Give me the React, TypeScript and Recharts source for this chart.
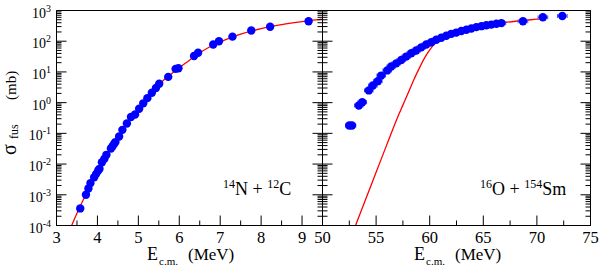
import React from 'react';
import { ComposedChart, Scatter, Line, XAxis, YAxis, ErrorBar } from 'recharts';

const FONT = '"Liberation Serif", "Times New Roman", Times, serif';

// ---- 14N + 12C (left panel) ----
const leftExpE = [3.58, 3.72, 3.78, 3.83, 3.92, 3.97, 4.02, 4.05, 4.11, 4.17, 4.22, 4.33, 4.37, 4.41, 4.44, 4.53, 4.61, 4.72, 4.82, 4.92, 5.02, 5.12, 5.22, 5.33, 5.43, 5.51, 5.73, 5.91, 5.98, 6.36, 6.46, 6.83, 6.97, 7.3, 7.76, 8.22, 9.16];
const leftExpSigma = [3.6e-4, 1.0e-3, 1.6e-3, 2.4e-3, 3.7e-3, 4.8e-3, 6.2e-3, 7.0e-3, 0.0115, 0.0148, 0.02, 0.032, 0.038, 0.046, 0.052, 0.079, 0.13, 0.21, 0.34, 0.41, 0.63, 0.95, 1.4, 2.1, 3.0, 4.1, 6.9, 12.6, 13.2, 33, 42, 78, 100, 141, 224, 295, 447];
const leftCurveE = [3.37, 3.5, 3.75, 4.0, 4.25, 4.5, 4.75, 5.0, 5.25, 5.5, 5.75, 6.0, 6.25, 6.5, 6.75, 7.0, 7.5, 8.0, 8.5, 9.0, 9.5];
const leftCurveSigma = [1.0e-4, 2.5e-4, 1.26e-3, 5.5e-3, 0.0224, 0.076, 0.24, 0.6, 1.55, 3.8, 7.6, 13.8, 24, 42, 66, 95, 170, 257, 347, 437, 525];

// ---- 16O + 154Sm (right panel) ----
const rightExpE = [52.5, 52.75, 53.39, 53.71, 54.32, 54.7, 55.16, 55.48, 56.04, 56.41, 56.88, 57.35, 57.81, 58.28, 58.74, 59.21, 59.68, 60.15, 60.61, 61.08, 61.55, 62.02, 62.48, 62.95, 63.42, 63.88, 64.35, 64.82, 65.28, 65.75, 66.22, 66.69, 68.7, 70.56, 72.37];
const rightExpSigma = [0.18, 0.18, 0.81, 1.03, 2.5, 3.6, 5.0, 7.6, 11.2, 15, 19, 24.5, 31.6, 40.7, 50, 63, 78, 93, 112, 129, 151, 174, 191, 214, 236, 259, 288, 309, 331, 348, 369, 389, 447, 600, 660];
const rightExpErrE = [0.35, 0.35, 0.4, 0.4, 0.4, 0.4, 0.4, 0.4, 0.4, 0.4, 0.4, 0.4, 0.4, 0.4, 0.4, 0.4, 0.4, 0.4, 0.4, 0.4, 0.4, 0.4, 0.4, 0.4, 0.4, 0.4, 0.4, 0.4, 0.4, 0.4, 0.4, 0.4, 0.45, 0.45, 0.45];
const rightCurveE = [53.08, 54, 55, 56, 57, 57.5, 58, 58.5, 59, 59.5, 60, 60.5, 61, 61.5, 62, 63, 64, 65, 66, 67, 68, 69, 70, 70.4];
const rightCurveSigma = [1e-4, 6.8e-4, 5.4e-3, 0.043, 0.33, 0.83, 2.1, 5.4, 12.6, 27.5, 52, 85, 112, 141, 166, 214, 263, 316, 363, 407, 447, 479, 525, 537];

// ---- ticks ----
const leftXTicks = [3, 3.5, 4, 4.5, 5, 5.5, 6, 6.5, 7, 7.5, 8, 8.5, 9, 9.5];
const rightXTicks = [50, 52.5, 55, 57.5, 60, 62.5, 65, 67.5, 70, 72.5, 75];
const yMajorTicks = [1e-4, 1e-3, 1e-2, 1e-1, 1, 10, 100, 1000];
const yMinorMultipliers = [2, 3, 4, 5, 6, 7, 8, 9];
const yTicks = [
  ...yMajorTicks,
  ...yMajorTicks.slice(0, -1).flatMap((d) => yMinorMultipliers.map((m) => Number((d * m).toPrecision(3)))),
];

const leftExp = leftExpE.map((e, i) => ({ e, s: leftExpSigma[i] }));
const leftCurve = leftCurveE.map((e, i) => ({ e, s: leftCurveSigma[i] }));
const rightExp = rightExpE.map((e, i) => ({ e, s: rightExpSigma[i], ex: rightExpErrE[i] }));
const rightCurve = rightCurveE.map((e, i) => ({ e, s: rightCurveSigma[i] }));

const W = 599;
const H = 267;
const PLOT_TOP = 10.5;
const PLOT_BOTTOM = 225.5;
const L_LEFT = 56.5;
const MID = 322.5;
const R_RIGHT = 590.5;

const MAJOR = 10;
const MINOR = 5;

const makeXTick = (side: 'top' | 'bottom', step: number, showLabel: boolean) => (props: any) => {
  const { x, y, payload } = props;
  const v = payload.value;
  const major = Math.abs(v / step - Math.round(v / step)) < 1e-6;
  const len = major ? MAJOR : MINOR;
  const y2 = side === 'bottom' ? y - len : y + len;
  return (
    <g>
      <line x1={x} y1={y} x2={x} y2={y2} stroke="#000" strokeWidth={1} />
      {showLabel && major && side === 'bottom' ? (
        <text x={x} y={y + 17.5} textAnchor="middle" fontFamily={FONT} fontSize={16.5} fill="#000">
          {String(v)}
        </text>
      ) : null}
    </g>
  );
};

const makeYTick = (side: 'left' | 'right', showLabel: boolean) => (props: any) => {
  const { x, y, payload } = props;
  const v = payload.value;
  const lg = Math.log10(v);
  const major = Math.abs(lg - Math.round(lg)) < 1e-6;
  const len = major ? MAJOR : MINOR;
  const x2 = side === 'left' ? x + len : x - len;
  return (
    <g>
      <line x1={x} y1={y} x2={x2} y2={y} stroke="#000" strokeWidth={1} />
      {showLabel && major ? (
        <text x={x - 5.5} y={y + 7} textAnchor="end" fontFamily={FONT} fontSize={14} fill="#000">
          10
          <tspan dy={-6} fontSize={10}>{String(Math.round(lg))}</tspan>
        </text>
      ) : null}
    </g>
  );
};

const dotShape = (p: any) => <circle cx={p.cx} cy={p.cy} r={4.2} fill="#0000ff" />;

type PanelProps = {
  left: number;
  right: number;
  domain: [number, number];
  xTicks: number[];
  step: number;
  yLabels: boolean;
  exp: any[];
  curve: any[];
  errors: boolean;
};

function Panel({ left, right, domain, xTicks, step, yLabels, exp, curve, errors }: PanelProps) {
  const margin = {
    top: PLOT_TOP - 1,
    bottom: H - PLOT_BOTTOM - 1,
    left: left - 1,
    right: W - right - 1,
  };
  const axisLine = { stroke: '#000', strokeWidth: 1 };
  return (
    <ComposedChart width={W} height={H} margin={margin}>
      <XAxis
        xAxisId="b"
        orientation="bottom"
        type="number"
        dataKey="e"
        domain={domain}
        allowDataOverflow
        ticks={xTicks}
        interval={0}
        height={1}
        tickSize={0}
        tickMargin={0}
        tickLine={false}
        axisLine={axisLine}
        tick={makeXTick('bottom', step, true)}
      />
      <XAxis
        xAxisId="t"
        orientation="top"
        type="number"
        domain={domain}
        allowDataOverflow
        ticks={xTicks}
        interval={0}
        height={1}
        tickSize={0}
        tickMargin={0}
        tickLine={false}
        axisLine={axisLine}
        tick={makeXTick('top', step, false)}
      />
      <YAxis
        yAxisId="l"
        orientation="left"
        type="number"
        scale="log"
        dataKey="s"
        domain={[1e-4, 1000]}
        allowDataOverflow
        ticks={yTicks}
        interval={0}
        width={1}
        tickSize={0}
        tickMargin={0}
        tickLine={false}
        axisLine={axisLine}
        tick={makeYTick('left', yLabels)}
      />
      <YAxis
        yAxisId="r"
        orientation="right"
        type="number"
        scale="log"
        domain={[1e-4, 1000]}
        allowDataOverflow
        ticks={yTicks}
        interval={0}
        width={1}
        tickSize={0}
        tickMargin={0}
        tickLine={false}
        axisLine={axisLine}
        tick={makeYTick('right', false)}
      />
      <Line
        xAxisId="b"
        yAxisId="l"
        data={curve}
        dataKey="s"
        type="monotone"
        stroke="#ff0000"
        strokeWidth={1.3}
        dot={false}
        activeDot={false}
        isAnimationActive={false}
      />
      <Scatter
        xAxisId="b"
        yAxisId="l"
        data={exp}
        dataKey="s"
        fill="#0000ff"
        shape={dotShape}
        isAnimationActive={false}
      >
        {errors ? (
          <ErrorBar
            dataKey="ex"
            direction="x"
            width={2}
            stroke="#4a4aff"
            strokeWidth={1}
            isAnimationActive={false}
          />
        ) : null}
      </Scatter>
    </ComposedChart>
  );
}

export default function App() {
  const cL = (L_LEFT + MID) / 2;
  const cR = (MID + R_RIGHT) / 2;
  const xTitle = (c: number) => (
    <g fontFamily={FONT} fill="#000">
      <text x={c - 42.5} y={260} fontSize={18}>E</text>
      <text x={c - 30.5} y={264.5} fontSize={11}>c.m.</text>
      <text x={c - 1.5} y={260} fontSize={17}>(MeV)</text>
    </g>
  );
  return (
    <div style={{ position: 'absolute', left: 0, top: 0, width: W, height: H, background: '#fff' }}>
      <div style={{ position: 'absolute', left: 0, top: 0 }}>
        <Panel
          left={L_LEFT}
          right={MID}
          domain={[3, 9.5]}
          xTicks={leftXTicks}
          step={1}
          yLabels={true}
          exp={leftExp}
          curve={leftCurve}
          errors={false}
        />
      </div>
      <div style={{ position: 'absolute', left: 0, top: 0 }}>
        <Panel
          left={MID}
          right={R_RIGHT}
          domain={[50, 75]}
          xTicks={rightXTicks}
          step={5}
          yLabels={false}
          exp={rightExp}
          curve={rightCurve}
          errors={true}
        />
      </div>
      <svg
        width={W}
        height={H}
        style={{ position: 'absolute', left: 0, top: 0, pointerEvents: 'none', whiteSpace: 'pre' }}
      >
        {xTitle(cL)}
        {xTitle(cR)}
        <text
          x={16}
          y={155}
          transform="rotate(-90, 16, 155)"
          fontFamily={FONT}
          fill="#000"
        >
          <tspan x={16} fontSize={20}>σ</tspan>
          <tspan x={32} dy={2} fontSize={12}>fus</tspan>
          <tspan x={71} dy={-2} fontSize={15}>(mb)</tspan>
        </text>
        <text x={223} y={195} fontFamily={FONT} fontSize={18} fill="#000">
          <tspan fontSize={12} dy={-7}>14</tspan>
          <tspan dy={7}>N + </tspan>
          <tspan fontSize={12} dy={-7}>12</tspan>
          <tspan dy={7}>C</tspan>
        </text>
        <text x={480} y={195} fontFamily={FONT} fontSize={18} fill="#000">
          <tspan fontSize={12} dy={-7}>16</tspan>
          <tspan dy={7}>O + </tspan>
          <tspan fontSize={12} dy={-7}>154</tspan>
          <tspan dy={7}>Sm</tspan>
        </text>
      </svg>
    </div>
  );
}
